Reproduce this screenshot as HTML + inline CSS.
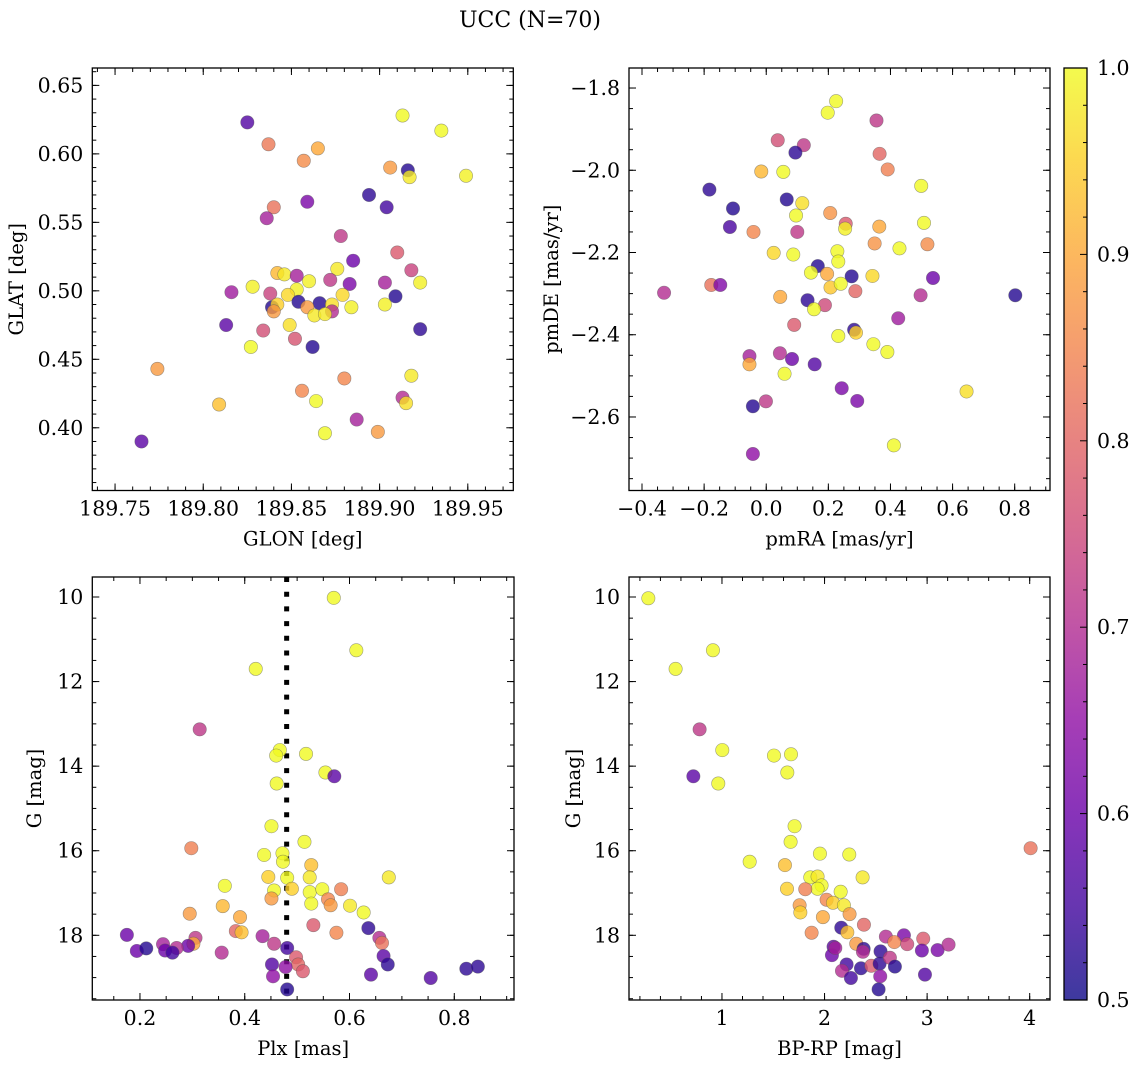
<!DOCTYPE html>
<html><head><meta charset="utf-8">
<style>
html,body{margin:0;padding:0;background:#fff;}
svg{display:block;font-family:"DejaVu Serif","Liberation Serif",serif;}
</style></head>
<body>
<svg id="fig" width="1136" height="1067" viewBox="0 0 1136 1067" xmlns="http://www.w3.org/2000/svg">
<defs>
<linearGradient id="plasmaGrad" x1="0" y1="1" x2="0" y2="0"></linearGradient>
</defs>
<text x="530" y="27" font-size="22" text-anchor="middle">UCC (N=70)</text>
</svg>
<script>
// ---- data ----
const glon = [189.825,189.837,189.865,189.857,189.913,189.935,189.906,189.916,189.917,189.949,189.894,189.904,189.859,189.840,189.836,189.878,189.910,189.885,189.918,189.876,189.842,189.846,189.853,189.860,189.872,189.883,189.903,189.923,189.816,189.828,189.838,189.853,189.848,189.879,189.909,189.854,189.866,189.839,189.842,189.840,189.859,189.873,189.873,189.863,189.869,189.884,189.903,189.813,189.923,189.834,189.849,189.852,189.862,189.827,189.774,189.880,189.918,189.856,189.864,189.913,189.915,189.809,189.887,189.899,189.869,189.765];
const glat = [0.623,0.607,0.604,0.595,0.628,0.617,0.590,0.588,0.583,0.584,0.570,0.561,0.565,0.561,0.553,0.540,0.528,0.522,0.515,0.516,0.513,0.512,0.511,0.507,0.508,0.505,0.506,0.506,0.499,0.503,0.498,0.501,0.497,0.497,0.496,0.492,0.491,0.488,0.490,0.485,0.488,0.490,0.485,0.482,0.483,0.488,0.490,0.475,0.472,0.471,0.475,0.465,0.459,0.459,0.443,0.436,0.438,0.427,0.4195,0.422,0.418,0.417,0.406,0.397,0.396,0.390];
const probA = [0.57,0.83,0.9,0.86,1.0,1.0,0.88,0.52,0.98,0.99,0.53,0.55,0.62,0.82,0.68,0.72,0.78,0.6,0.74,0.98,0.92,0.98,0.68,0.99,0.72,0.62,0.68,0.99,0.67,0.99,0.74,0.99,0.96,0.96,0.52,0.52,0.52,0.52,0.95,0.88,0.88,0.97,0.7,0.98,0.98,0.99,0.99,0.58,0.53,0.76,0.97,0.77,0.52,1.0,0.88,0.85,0.98,0.85,1.0,0.7,0.97,0.93,0.68,0.88,1.0,0.58];

const pmra = [0.225,0.198,0.355,0.037,0.121,0.094,0.365,0.391,-0.016,0.055,0.499,-0.183,0.066,0.116,-0.107,0.096,0.206,0.256,0.254,-0.117,-0.041,0.100,0.364,0.508,0.349,0.429,0.519,0.024,0.087,0.229,0.232,0.166,0.144,0.196,0.275,0.342,0.537,-0.177,-0.148,-0.329,0.207,0.240,0.287,0.045,0.133,0.189,0.154,0.497,0.802,0.090,0.425,0.283,0.289,0.232,0.345,0.390,-0.054,-0.054,0.044,0.083,0.156,0.059,0.243,0.293,0.645,-0.043,-0.001,0.411,-0.043];
const pmde = [-1.832,-1.860,-1.879,-1.927,-1.939,-1.957,-1.960,-1.998,-2.003,-2.004,-2.038,-2.047,-2.071,-2.080,-2.093,-2.110,-2.104,-2.130,-2.142,-2.138,-2.150,-2.150,-2.137,-2.128,-2.178,-2.190,-2.180,-2.201,-2.205,-2.197,-2.222,-2.233,-2.249,-2.252,-2.258,-2.257,-2.262,-2.279,-2.279,-2.298,-2.285,-2.276,-2.294,-2.308,-2.316,-2.328,-2.338,-2.304,-2.304,-2.376,-2.360,-2.388,-2.395,-2.403,-2.423,-2.442,-2.452,-2.472,-2.445,-2.459,-2.472,-2.495,-2.530,-2.561,-2.538,-2.574,-2.562,-2.669,-2.690];
const probB = [1.0,1.0,0.72,0.76,0.72,0.53,0.8,0.84,0.92,1.0,1.0,0.53,0.52,0.97,0.52,1.0,0.87,0.78,0.99,0.56,0.85,0.72,0.9,1.0,0.87,1.0,0.86,0.96,1.0,1.0,1.0,0.52,1.0,0.9,0.52,0.96,0.6,0.82,0.63,0.7,0.94,1.0,0.8,0.9,0.53,0.75,1.0,0.7,0.52,0.78,0.67,0.53,0.95,1.0,1.0,1.0,0.68,0.9,0.7,0.6,0.57,1.0,0.62,0.62,0.97,0.52,0.72,1.0,0.65];

const plx = [0.570,0.613,0.421,0.314,0.467,0.460,0.517,0.554,0.571,0.461,0.451,0.514,0.298,0.437,0.472,0.473,0.527,0.445,0.481,0.524,0.675,0.362,0.456,0.490,0.524,0.548,0.584,0.451,0.527,0.559,0.564,0.601,0.627,0.358,0.295,0.391,0.383,0.394,0.531,0.575,0.636,0.175,0.244,0.306,0.302,0.292,0.270,0.194,0.212,0.248,0.262,0.356,0.434,0.456,0.481,0.498,0.502,0.511,0.478,0.452,0.454,0.481,0.657,0.662,0.665,0.673,0.641,0.755,0.823,0.845];
const gmagC = [10.02,11.26,11.70,13.13,13.62,13.75,13.71,14.15,14.24,14.41,15.42,15.79,15.94,16.10,16.06,16.26,16.34,16.62,16.64,16.63,16.63,16.83,16.94,16.90,16.98,16.91,16.91,17.13,17.25,17.15,17.29,17.30,17.46,17.31,17.49,17.57,17.90,17.93,17.76,17.94,17.83,17.99,18.21,18.06,18.20,18.25,18.30,18.37,18.31,18.36,18.41,18.41,18.02,18.20,18.30,18.52,18.69,18.85,18.75,18.69,18.97,19.28,18.06,18.18,18.49,18.69,18.93,19.01,18.79,18.74];
const probC = [1.0,1.0,1.0,0.72,1.0,1.0,1.0,1.0,0.58,1.0,1.0,1.0,0.84,1.0,1.0,1.0,0.93,0.95,1.0,0.98,0.98,1.0,1.0,0.95,1.0,1.0,0.84,0.88,1.0,0.85,0.88,0.98,1.0,0.92,0.88,0.9,0.8,0.93,0.78,0.85,0.53,0.6,0.68,0.72,0.9,0.6,0.7,0.6,0.52,0.6,0.55,0.7,0.68,0.72,0.55,0.78,0.8,0.78,0.65,0.57,0.65,0.52,0.7,0.82,0.58,0.53,0.58,0.57,0.53,0.53];
const plxLine = [0.480];

const bprp = [0.282,0.548,0.912,0.782,1.003,0.721,0.964,1.507,1.673,1.637,1.708,1.669,1.270,1.955,2.241,1.614,2.371,1.861,1.932,1.971,1.932,1.634,1.812,2.157,2.020,2.082,2.189,1.757,1.764,1.984,2.244,2.384,1.874,2.163,2.222,2.309,2.088,2.072,2.381,2.374,2.546,2.598,2.774,2.680,2.806,2.962,2.949,3.102,3.209,2.215,2.170,2.355,2.456,2.537,2.637,2.686,2.257,2.543,2.527,2.979,4.009,2.105];
const gmagD = [10.03,11.70,11.26,13.13,13.62,14.24,14.41,13.75,13.72,14.15,15.42,15.79,16.26,16.07,16.09,16.34,16.63,16.63,16.61,16.82,16.90,16.90,16.91,16.97,17.16,17.23,17.29,17.29,17.46,17.57,17.50,17.75,17.94,17.82,17.93,18.20,18.27,18.47,18.32,18.39,18.38,18.03,18.00,18.16,18.21,18.08,18.36,18.35,18.22,18.69,18.84,18.78,18.72,18.67,18.53,18.74,19.01,18.97,19.28,18.93,15.94,18.30];
const probD = [1.0,1.0,1.0,0.72,1.0,0.58,1.0,1.0,1.0,1.0,1.0,1.0,1.0,1.0,1.0,0.93,0.98,1.0,0.98,1.0,1.0,0.95,0.84,1.0,0.85,0.95,0.98,0.88,0.95,0.9,0.88,0.8,0.85,0.53,0.93,0.88,0.58,0.6,0.53,0.7,0.53,0.7,0.62,0.85,0.75,0.78,0.6,0.62,0.7,0.55,0.7,0.53,0.78,0.53,0.72,0.52,0.55,0.65,0.52,0.57,0.82,0.68];

// tick labels
const ticksAx = [189.75,189.80,189.85,189.90,189.95];
const ticksAy = [0.40,0.45,0.50,0.55,0.60,0.65];
const ticksBx = [-0.4,-0.2,0.0,0.2,0.4,0.6,0.8];
const ticksBy = [-2.6,-2.4,-2.2,-2.0,-1.8];
const ticksCx = [0.2,0.4,0.6,0.8];
const ticksGy = [10,12,14,16,18];
const ticksDx = [1,2,3,4];
const ticksCbar = [0.5,0.6,0.7,0.8,0.9,1.0];

// ---- drawing ----
const NS = "http://www.w3.org/2000/svg";
const svg = document.getElementById('fig');
const plasma = ["#0d0887","#41049d","#6a00a8","#8f0da4","#b12a90","#cc4778","#e16462","#f2844b","#fca636","#fcce25","#f0f921"];
const TICK_FS = 20.5, LAB_FS = 19.5;
function hex2rgb(h){return [parseInt(h.substr(1,2),16),parseInt(h.substr(3,2),16),parseInt(h.substr(5,2),16)];}
function cmap(p){
  let t=(p-0.5)/0.5; t=Math.max(0,Math.min(1,t));
  const f=t*10, i=Math.min(9,Math.floor(f)), r=f-i;
  const a=hex2rgb(plasma[i]), b=hex2rgb(plasma[i+1]);
  return 'rgb('+a.map((v,k)=>Math.round(v+(b[k]-v)*r)).join(',')+')';
}
function mk(tag, attrs, parent){
  const e=document.createElementNS(NS,tag);
  for(const k in attrs) e.setAttribute(k,attrs[k]);
  (parent||svg).appendChild(e);
  return e;
}
function lin(d0,d1,p0,p1){return v=>p0+(v-d0)/(d1-d0)*(p1-p0);}
function fmt(v,dec){const s=Math.abs(v).toFixed(dec);return (v<0?'\u2212':'')+s;}

function panel(cfg){
  const g=mk('g',{});
  
  
  const sx=lin(cfg.xd[0],cfg.xd[1],cfg.L,cfg.R);
  const sy=lin(cfg.yd[0],cfg.yd[1],cfg.yInv?cfg.T:cfg.B,cfg.yInv?cfg.B:cfg.T);
  const tg=mk('g',{stroke:'#000','stroke-width':1},g);
  
  
  function xt(v,len){const x=sx(v);if(x<cfg.L-0.5||x>cfg.R+0.5)return;
    mk('line',{x1:x,x2:x,y1:cfg.B,y2:cfg.B-len},tg);mk('line',{x1:x,x2:x,y1:cfg.T,y2:cfg.T+len},tg);}
  function yt(v,len){const y=sy(v);if(y<cfg.T-0.5||y>cfg.B+0.5)return;
    mk('line',{x1:cfg.L,x2:cfg.L+len,y1:y,y2:y},tg);mk('line',{x1:cfg.R,x2:cfg.R-len,y1:y,y2:y},tg);}
  const xs=Math.ceil(Math.min(cfg.xd[0],cfg.xd[1])/cfg.xm), xe=Math.floor(Math.max(cfg.xd[0],cfg.xd[1])/cfg.xm);
  for(let k=xs;k<=xe;k++) xt(k*cfg.xm,4);
  const ys=Math.ceil(Math.min(cfg.yd[0],cfg.yd[1])/cfg.ym), ye=Math.floor(Math.max(cfg.yd[0],cfg.yd[1])/cfg.ym);
  for(let k=ys;k<=ye;k++) yt(k*cfg.ym,4);
  cfg.xt.forEach(v=>xt(v,7)); cfg.yt.forEach(v=>yt(v,7));
  cfg.xt.forEach(v=>{const t=mk('text',{x:sx(v),y:cfg.B+25,'font-size':TICK_FS,'text-anchor':'middle'},g);t.textContent=fmt(v,cfg.xdec);
    
    });
  cfg.yt.forEach(v=>{const t=mk('text',{x:cfg.L-9,y:sy(v)+7,'font-size':TICK_FS,'text-anchor':'end'},g);t.textContent=fmt(v,cfg.ydec);
    
    });
  const xl=mk('text',{x:(cfg.L+cfg.R)/2,y:cfg.B+55,'font-size':LAB_FS,'text-anchor':'middle'},g);xl.textContent=cfg.xlab;
  
  
  const ycx=cfg.ylx, ycy=(cfg.T+cfg.B)/2;
  const yl=mk('text',{x:ycx,y:ycy,'font-size':LAB_FS,'text-anchor':'middle',transform:'rotate(-90 '+ycx+' '+ycy+')'},g);yl.textContent=cfg.ylab;
  
  
  const cid='clip-'+cfg.name;
  const cp=mk('clipPath',{id:cid},g); mk('rect',{x:cfg.L,y:cfg.T,width:cfg.R-cfg.L,height:cfg.B-cfg.T},cp);
  const pg=mk('g',{'clip-path':'url(#'+cid+')'},g);
  
  
  if(cfg.vline){cfg.vline.forEach(v=>{
    const l=mk('line',{x1:sx(v),x2:sx(v),y1:cfg.T,y2:cfg.B,stroke:'#000','stroke-width':5,'stroke-dasharray':'5 9.7'},pg);
    
    
  });}
  for(let i=0;i<cfg.x.length;i++){
    const c=mk('circle',{cx:sx(cfg.x[i]),cy:sy(cfg.y[i]),r:6.7,fill:cmap(cfg.p[i]),'fill-opacity':0.8,stroke:'#555','stroke-opacity':0.55,'stroke-width':0.6},pg);
    
    
  }
  const fr=mk('rect',{x:cfg.L,y:cfg.T,width:cfg.R-cfg.L,height:cfg.B-cfg.T,fill:'none',stroke:'#000','stroke-width':1.3},g);
  
  
}

panel({name:'glon-glat-panel',L:92.3,R:513.3,T:68,B:490.5,xd:[189.7371,189.9758],yd:[0.3542,0.6627],
  xt:ticksAx,yt:ticksAy,xm:0.01,ym:0.01,xdec:2,ydec:2,xlab:'GLON [deg]',ylab:'GLAT [deg]',ylx:23,x:glon,y:glat,p:probA});
panel({name:'pm-panel',L:629,R:1050,T:68,B:490.5,xd:[-0.4419,0.9137],yd:[-2.7788,-1.7513],
  xt:ticksBx,yt:ticksBy,xm:0.05,ym:0.05,xdec:1,ydec:1,xlab:'pmRA [mas/yr]',ylab:'pmDE [mas/yr]',ylx:558,x:pmra,y:pmde,p:probB});
panel({name:'plx-g-panel',L:92.3,R:514,T:577,B:1000,xd:[0.109,0.914],yd:[9.527,19.53],yInv:true,
  xt:ticksCx,yt:ticksGy,xm:0.05,ym:0.5,xdec:1,ydec:0,xlab:'Plx [mas]',ylab:'G [mag]',ylx:41,x:plx,y:gmagC,p:probC,vline:plxLine});
panel({name:'cmd-panel',L:629,R:1050,T:577,B:1000,xd:[0.0936,4.198],yd:[9.527,19.53],yInv:true,
  xt:ticksDx,yt:ticksGy,xm:0.2,ym:0.5,xdec:0,ydec:0,xlab:'BP-RP [mag]',ylab:'G [mag]',ylx:580,x:bprp,y:gmagD,p:probD});

// colorbar
const grad=document.getElementById('plasmaGrad');
for(let i=0;i<=20;i++){const p=0.5+i*0.025;mk('stop',{offset:(i/20),'stop-color':cmap(p),'stop-opacity':0.8},grad);}
const cb=mk('g',{});


const cT=68,cB=1000,cL=1064,cR=1087;
const cy=lin(0.5,1.0,cB,cT);
mk('rect',{x:cL,y:cT,width:cR-cL,height:cB-cT,fill:'url(#plasmaGrad)'},cb);
for(let k=25;k<=50;k++){const y=cy(k*0.02);const len=(k%5===0)?7:4;mk('line',{x1:cR,x2:cR-len,y1:y,y2:y,stroke:'#000','stroke-width':1},cb);}
ticksCbar.forEach(v=>{const t=mk('text',{x:cR+10,y:cy(v)+7,'font-size':TICK_FS},cb);t.textContent=v.toFixed(1);
  
  });
mk('rect',{x:cL,y:cT,width:cR-cL,height:cB-cT,fill:'none',stroke:'#000','stroke-width':1.3},cb);
</script>
</body></html>
